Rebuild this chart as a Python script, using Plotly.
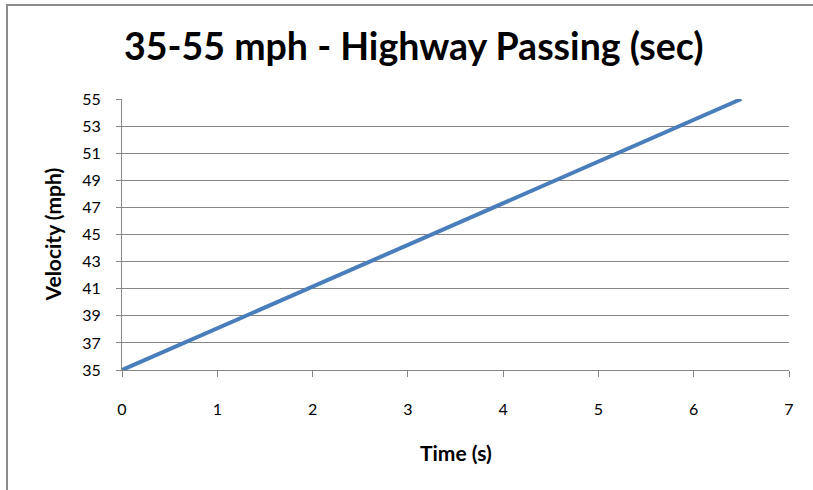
import plotly.graph_objects as go

# Elapsed time (s) and velocity (mph) during a 35-55 mph passing run
time_s = [0.0, 6.5]
velocity_mph = [35, 55]

x_ticks = [0, 1, 2, 3, 4, 5, 6, 7]
y_ticks = [35, 37, 39, 41, 43, 45, 47, 49, 51, 53, 55]

title_text = "35-55 mph - Highway Passing (sec)"
x_title = "Time (s)"
y_title = "Velocity (mph)"

FONT = "Lato, 'Noto Sans', sans-serif"
GRID = "#868686"

fig = go.Figure()
fig.add_trace(go.Scatter(
    x=time_s, y=velocity_mph, mode="lines",
    line=dict(color="#4A7EBB", width=4),
    hoverinfo="x+y", showlegend=False, cliponaxis=False,
))

fig.update_layout(
    width=813, height=490,
    margin=dict(l=122, r=24, t=99, b=120),
    paper_bgcolor="white", plot_bgcolor="white",
    font=dict(family=FONT, color="#000000", size=16),
    title=dict(text=f"<b>{title_text}</b>", x=0.509, xanchor="center",
               y=1 - 47 / 490, yanchor="middle",
               font=dict(size=37.5, family=FONT, color="#000000")),
    xaxis=dict(
        range=[0, 7], tickvals=x_ticks, ticktext=[str(v) for v in x_ticks],
        showgrid=False, zeroline=False,
        showline=True, linecolor=GRID, linewidth=1,
        ticks="outside", ticklen=6, tickcolor=GRID, tickwidth=1,
        ticklabelstandoff=19, tickfont=dict(size=16),
        fixedrange=True,
    ),
    yaxis=dict(
        range=[35, 55], tickvals=y_ticks, ticktext=[str(v) for v in y_ticks],
        showgrid=True, gridcolor=GRID, gridwidth=1, zeroline=False,
        showline=True, linecolor=GRID, linewidth=1,
        ticks="outside", ticklen=5, tickcolor=GRID, tickwidth=1,
        ticklabelstandoff=12, tickfont=dict(size=16),
        fixedrange=True,
    ),
    annotations=[
        dict(text=f"<b>{x_title}</b>", xref="paper", yref="paper",
             x=0.5, y=-82 / 271, xanchor="center", yanchor="middle",
             showarrow=False, font=dict(size=21)),
        dict(text=f"<b>{y_title}</b>", xref="paper", yref="paper",
             x=-70 / 667, y=0.5, xanchor="center", yanchor="middle",
             textangle=-90, showarrow=False, font=dict(size=21)),
    ],
    shapes=[
        # outer chart frame (left and top edges visible)
        dict(type="rect", xref="paper", yref="paper",
             x0=-115 / 667, x1=1.2, y0=-0.6, y1=1 + 94 / 271,
             line=dict(color="#8c8c8c", width=2), layer="below"),
    ],
)

fig.write_html("out.html")
